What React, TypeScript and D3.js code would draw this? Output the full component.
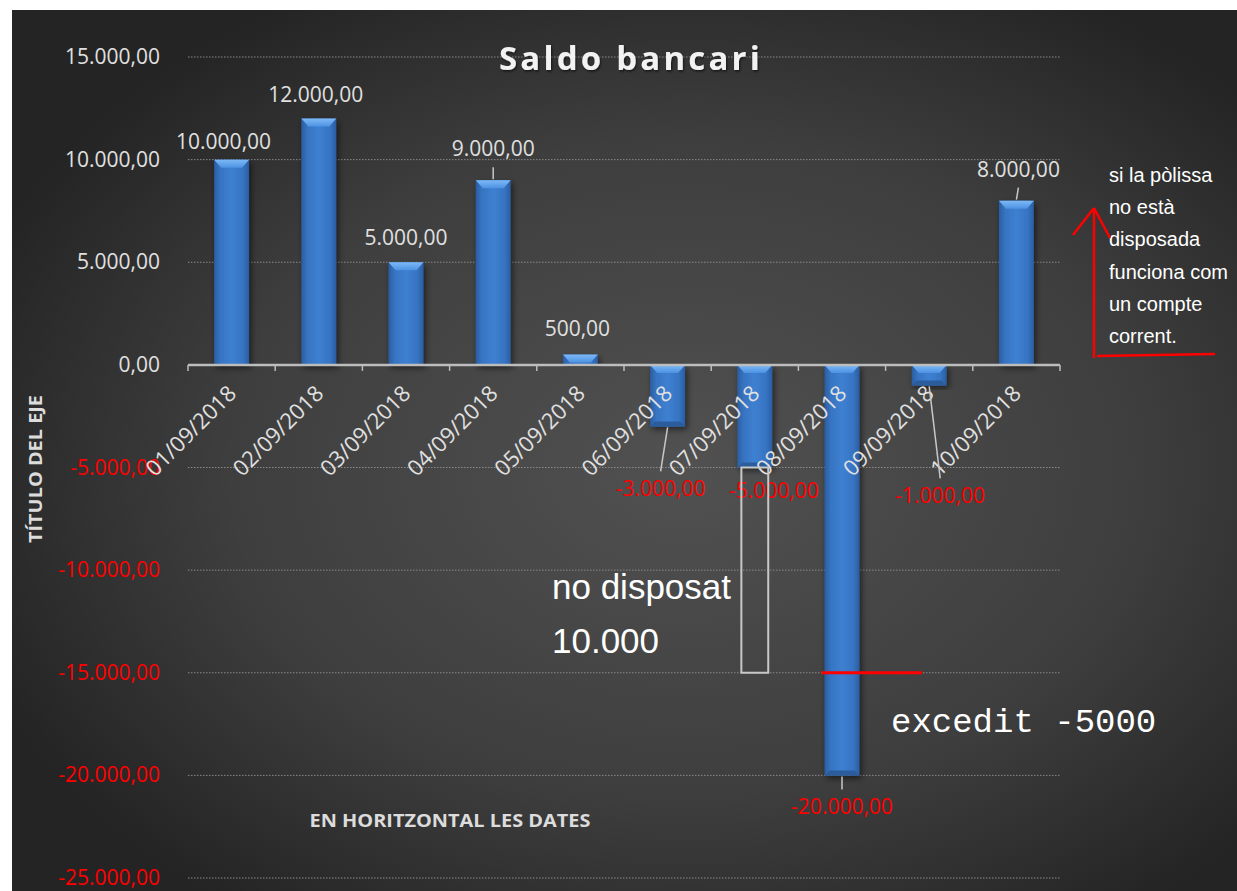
import React from "react";
import * as d3 from "d3";

const dates = [
  "01/09/2018", "02/09/2018", "03/09/2018", "04/09/2018", "05/09/2018",
  "06/09/2018", "07/09/2018", "08/09/2018", "09/09/2018", "10/09/2018",
];
const saldo = [10000, 12000, 5000, 9000, 500, -3000, -5000, -20000, -1000, 8000];
const yTicks = [15000, 10000, 5000, 0, -5000, -10000, -15000, -20000, -25000];
// label nudges (dx, dy from bar end) as dragged in the original
const labelNudge: [number, number][] = [
  [-8, -11], [-3, -17], [0, -17], [0, -24], [-3, -19],
  [-7, 70], [19, 30], [0, 39], [11, 118], [2, -24],
];
const noteLines = ["si la pòlissa", "no està", "disposada", "funciona com", "un compte", "corrent."];

const fmt = (v: number) => {
  const s = Math.abs(v).toFixed(2).split(".");
  const int = s[0].replace(/\B(?=(\d{3})+(?!\d))/g, ".");
  return (v < 0 ? "-" : "") + int + "," + s[1];
};

const W = 1237, H = 891;
const FONT = "'Open Sans', sans-serif";

export default function App() {
  const x = d3.scaleBand<string>().domain(dates).range([188, 1060]).paddingInner(0.6).paddingOuter(0.3);
  const y = d3.scaleLinear().domain([-25000, 15000]).range([878, 57]);
  const step = x.step();
  const bw = x.bandwidth();
  const y0 = y(0);

  return (
    <svg width={W} height={H} style={{ position: "absolute", left: 0, top: 0 }}>
      <defs>
        <radialGradient id="bg" cx="0.55" cy="0.52" r="0.62">
          <stop offset="0" stopColor="#515151" />
          <stop offset="0.6" stopColor="#3e3e3e" />
          <stop offset="1" stopColor="#242424" />
        </radialGradient>
        <linearGradient id="bar" x1="0" x2="1" y1="0" y2="0">
          <stop offset="0" stopColor="#2a5ea3" />
          <stop offset="0.18" stopColor="#3774c2" />
          <stop offset="0.5" stopColor="#3e80d2" />
          <stop offset="0.82" stopColor="#3774c2" />
          <stop offset="1" stopColor="#2a5ea3" />
        </linearGradient>
        <linearGradient id="bevel" x1="0" x2="0" y1="0" y2="1">
          <stop offset="0" stopColor="#7db9f7" />
          <stop offset="1" stopColor="#4d92e2" />
        </linearGradient>
        <filter id="shadow" x="-50%" y="-10%" width="200%" height="130%">
          <feDropShadow dx="2" dy="3" stdDeviation="3" floodColor="#000" floodOpacity="0.55" />
        </filter>
        <filter id="tshadow">
          <feDropShadow dx="1" dy="1.5" stdDeviation="1" floodColor="#000" floodOpacity="0.6" />
        </filter>
      </defs>
      <rect x={0} y={0} width={W} height={H} fill="#ffffff" />
      <rect x={12} y={10} width={W - 12} height={H - 10} fill="url(#bg)" />

      {/* gridlines */}
      {yTicks.filter((t) => t !== 0).map((t) => (
        <line key={t} x1={188} x2={1060} y1={y(t)} y2={y(t)} stroke="#8a8a8a" strokeWidth={1} strokeDasharray="1.5,1.5" />
      ))}

      {/* y tick labels */}
      {yTicks.map((t) => (
        <text key={t} x={160} y={y(t) + 7} textAnchor="end" fontFamily={FONT} fontSize={21}
          fill={t < 0 ? "#ff0000" : "#e0e0e0"}>{fmt(t)}</text>
      ))}

      {/* title */}
      <text x={631} y={70} textAnchor="middle" fontFamily={FONT} fontWeight={700} fontSize={33}
        letterSpacing={3.2} fill="#f2f2f2" filter="url(#tshadow)">Saldo bancari</text>

      {/* bars */}
      {dates.map((d, i) => {
        const v = saldo[i];
        const bx = x(d)!;
        const top = Math.min(y(v), y0);
        const h = Math.abs(y(v) - y0);
        const bev = Math.min(8, h);
        const ins = Math.min(7, bev);
        return (
          <g key={d}>
            <rect x={bx} y={top} width={bw} height={h} fill="url(#bar)" filter="url(#shadow)" />
            <polygon points={`${bx},${top} ${bx + bw},${top} ${bx + bw - ins},${top + bev} ${bx + ins},${top + bev}`} fill="url(#bevel)" />
            {v < 0 && h > 16 && (
              <polygon points={`${bx},${top + h} ${bx + bw},${top + h} ${bx + bw - 5},${top + h - 5} ${bx + 5},${top + h - 5}`} fill="#2b5c9c" />
            )}
          </g>
        );
      })}

      {/* x axis line and ticks */}
      <line x1={188} x2={1060} y1={y0} y2={y0} stroke="#bdbdbd" strokeWidth={2.5} />
      {d3.range(dates.length + 1).map((i) => (
        <line key={i} x1={188 + i * step} x2={188 + i * step} y1={y0} y2={y0 + 6} stroke="#bdbdbd" strokeWidth={1.5} />
      ))}

      {/* x tick labels */}
      {dates.map((d) => {
        const cx = x(d)! + bw / 2 + 6;
        const cy = y0 + 30;
        return (
          <text key={d} x={cx} y={cy} textAnchor="end" fontFamily={FONT} fontSize={22} fill="#e0e0e0"
            transform={`rotate(-45 ${cx} ${cy})`}>{d}</text>
        );
      })}

      {/* data labels with leader lines */}
      {dates.map((d, i) => {
        const v = saldo[i];
        const cx = x(d)! + bw / 2;
        const end = y(v);
        const [dx, dy] = labelNudge[i];
        const lx = cx + dx;
        const ly = end + dy;
        let leader = null;
        if (v >= 0 && -dy > 20) {
          leader = <line x1={cx} y1={end - 1} x2={lx} y2={ly + 11} stroke="#c8c8c8" strokeWidth={1.5} />;
        } else if (v < 0 && dy - 16 > 20) {
          leader = <line x1={cx} y1={end + 1} x2={lx} y2={ly - 25} stroke="#c8c8c8" strokeWidth={1.5} />;
        }
        return (
          <g key={d}>
            {leader}
            <text x={lx} y={ly} textAnchor="middle" fontFamily={FONT} fontSize={21}
              fill={v < 0 ? "#ff0000" : "#e0e0e0"}>{fmt(v)}</text>
          </g>
        );
      })}

      {/* axis titles */}
      <text x={450} y={827} textAnchor="middle" fontFamily={FONT} fontWeight={700} fontSize={17}
        fill="#dcdcdc" textLength={281} lengthAdjust="spacingAndGlyphs">EN HORITZONTAL LES DATES</text>
      <text transform={`translate(42 469) rotate(-90)`} textAnchor="middle" fontFamily={FONT} fontWeight={700}
        fontSize={17} fill="#dcdcdc" textLength={148} lengthAdjust="spacingAndGlyphs">TÍTULO DEL EJE</text>

      {/* annotations */}
      <rect x={x(dates[6])! + 4} y={y(-5000)} width={bw - 8} height={y(-15000) - y(-5000)}
        fill="none" stroke="#c8c8c8" strokeWidth={2} />
      <text x={552} y={599} fontFamily="'Liberation Sans', Arial, sans-serif" fontSize={35} fill="#ffffff">no disposat</text>
      <text x={552} y={653} fontFamily="'Liberation Sans', Arial, sans-serif" fontSize={35} fill="#ffffff">10.000</text>
      <line x1={x(dates[7])! - 3} x2={922} y1={y(-15000)} y2={y(-15000)} stroke="#ff0000" strokeWidth={3} />
      <text x={891} y={732} fontFamily="'Liberation Mono', 'Courier New', monospace" fontSize={34} fill="#ffffff">excedit -5000</text>

      {noteLines.map((l, i) => (
        <text key={i} x={1109} y={182 + i * 32.2} fontFamily="'Liberation Sans', Arial, sans-serif" fontSize={20} fill="#ffffff">{l}</text>
      ))}
      <g stroke="#ff0000" strokeWidth={2.5} fill="none">
        <line x1={1094} y1={358} x2={1094} y2={208} />
        <line x1={1094} y1={208} x2={1073} y2={235} />
        <line x1={1094} y1={208} x2={1110} y2={238} />
        <line x1={1097} y1={356} x2={1215} y2={354} />
      </g>
    </svg>
  );
}
